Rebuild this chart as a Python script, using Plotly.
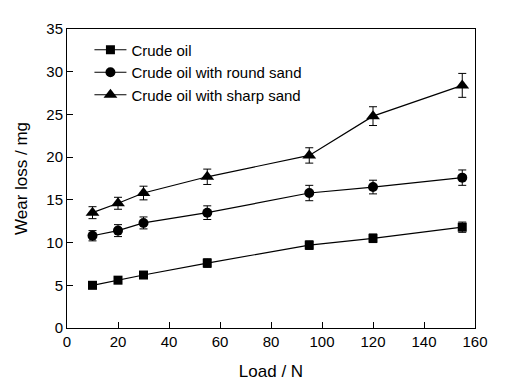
import plotly.graph_objects as go

load = [10, 20, 30, 55, 95, 120, 155]
crude = [5.0, 5.6, 6.2, 7.6, 9.7, 10.5, 11.8]
crude_err = [0.4, 0.4, 0.4, 0.5, 0.5, 0.5, 0.6]
round_sand = [10.8, 11.4, 12.3, 13.5, 15.8, 16.5, 17.6]
round_err = [0.6, 0.7, 0.7, 0.8, 0.9, 0.8, 0.9]
sharp_sand = [13.5, 14.6, 15.8, 17.7, 20.2, 24.8, 28.4]
sharp_err = [0.7, 0.7, 0.8, 0.9, 0.9, 1.1, 1.4]

series = [
    ("Crude oil", crude, crude_err, "square", 9),
    ("Crude oil with round sand", round_sand, round_err, "circle", 10),
    ("Crude oil with sharp sand", sharp_sand, sharp_err, "triangle-up", 12),
]

fig = go.Figure()
for name, vals, err, sym, sz in series:
    fig.add_trace(go.Scatter(
        x=load, y=vals, name=name, mode="lines+markers",
        line=dict(color="black", width=1.2),
        marker=dict(symbol=sym, size=sz, color="black"),
        error_y=dict(type="data", array=err, color="black", thickness=1, width=4),
    ))

font = "Liberation Sans, Arial, sans-serif"
fig.update_layout(
    width=516, height=390,
    margin=dict(l=57, r=49, t=18, b=70),
    paper_bgcolor="white", plot_bgcolor="white",
    font=dict(family=font, size=15, color="black"),
    showlegend=True,
    legend=dict(x=0.055, y=0.985, xanchor="left", yanchor="top",
                bgcolor="rgba(0,0,0,0)", font=dict(size=15),
                tracegroupgap=0, itemwidth=32),
    xaxis=dict(range=[0, 160], tickvals=[0, 20, 40, 60, 80, 100, 120, 140, 160],
               ticks="inside", ticklen=6, tickcolor="black",
               showline=True, linecolor="black", linewidth=1, mirror=True,
               showgrid=False, zeroline=False,
               title=dict(text="Load / N", font=dict(size=17), standoff=16)),
    yaxis=dict(range=[0, 35], tickvals=[0, 5, 10, 15, 20, 25, 30, 35],
               ticks="inside", ticklen=6, tickcolor="black",
               showline=True, linecolor="black", linewidth=1, mirror=True,
               showgrid=False, zeroline=False,
               title=dict(text="Wear loss / mg", font=dict(size=17), standoff=14)),
)

fig.write_html("out.html")
